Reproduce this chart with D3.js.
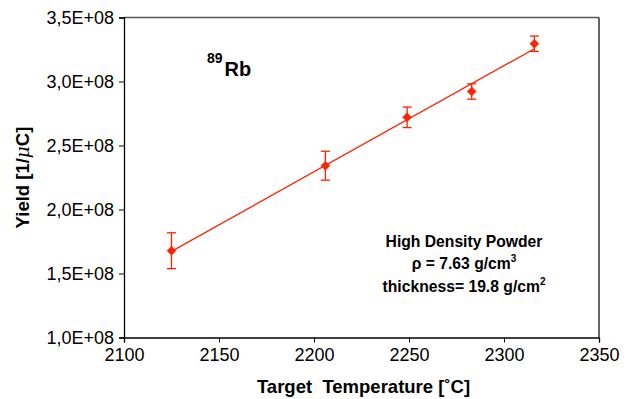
<!DOCTYPE html>
<html>
<head>
<meta charset="utf-8">
<script src="https://cdn.jsdelivr.net/npm/d3@7"></script>
<style>
  html, body { margin: 0; padding: 0; background: #fff; }
  svg { display: block; font-family: "Liberation Sans", Arial, Helvetica, sans-serif; }
</style>
</head>
<body>
<svg id="chart" width="636" height="399"></svg>
<script>
// ---- Data ----
const temperatures = [2125, 2206, 2249, 2283, 2316];
const yields = [1.678e8, 2.342e8, 2.72e8, 2.922e8, 3.295e8];
const yieldErrors = [0.14e8, 0.113e8, 0.08e8, 0.06e8, 0.06e8];
const xTicks = [2100, 2150, 2200, 2250, 2300, 2350];
const yTicks = [1.0e8, 1.5e8, 2.0e8, 2.5e8, 3.0e8, 3.5e8];
const yTickLabels = ["1,0E+08", "1,5E+08", "2,0E+08", "2,5E+08", "3,0E+08", "3,5E+08"];

const svg = d3.select("#chart");
const margin = { left: 124, right: 37, top: 17.5, bottom: 61.5 };
const W = 636, H = 399;
const x = d3.scaleLinear().domain([2100, 2350]).range([margin.left, W - margin.right]);
const y = d3.scaleLinear().domain([1.0e8, 3.5e8]).range([H - margin.bottom, margin.top]);

const red = "#ff2200";

// frame: top and right borders
svg.append("line").attr("x1", x(2100)).attr("x2", x(2350)).attr("y1", y(3.5e8)).attr("y2", y(3.5e8))
  .attr("stroke", "#555").attr("stroke-width", 1.3);
svg.append("line").attr("x1", x(2350)).attr("x2", x(2350)).attr("y1", y(3.5e8)).attr("y2", y(1.0e8))
  .attr("stroke", "#111").attr("stroke-width", 1.3);

// axes
const xAxis = d3.axisBottom(x).tickValues(xTicks).tickSize(5).tickPadding(6).tickFormat(d3.format("d"));
const yAxis = d3.axisLeft(y).tickValues(yTicks).tickSize(5).tickPadding(5)
  .tickFormat((d, i) => yTickLabels[i]);

const gx = svg.append("g").attr("transform", `translate(0,${y(1.0e8)})`).call(xAxis);
const gy = svg.append("g").attr("transform", `translate(${x(2100)},0)`).call(yAxis);
[gx, gy].forEach(g => {
  g.select(".domain").attr("stroke", "#000").attr("stroke-width", 1.3);
  g.selectAll(".tick line").attr("stroke", "#000").attr("stroke-width", 1);
  g.selectAll(".tick text").attr("fill", "#000").style("font-size", "18px")
    .style("font-family", "'Liberation Sans', Arial, sans-serif");
});

// linear fit from data
const mx = d3.mean(temperatures), my = d3.mean(yields);
const sxy = d3.sum(temperatures, (t, i) => (t - mx) * (yields[i] - my));
const sxx = d3.sum(temperatures, t => (t - mx) * (t - mx));
const slope = sxy / sxx, intercept = my - slope * mx;
const fitX = d3.extent(temperatures);
svg.append("path")
  .attr("d", d3.line().x(d => x(d)).y(d => y(intercept + slope * d))(fitX))
  .attr("stroke", red).attr("stroke-width", 1.3).attr("fill", "none");

// error bars
const pts = temperatures.map((t, i) => ({ t, v: yields[i], e: yieldErrors[i] }));
const eb = svg.append("g").attr("stroke", red).attr("stroke-width", 1.3).attr("fill", "none");
pts.forEach(p => {
  eb.append("line").attr("x1", x(p.t)).attr("x2", x(p.t)).attr("y1", y(p.v - p.e)).attr("y2", y(p.v + p.e));
  [p.v - p.e, p.v + p.e].forEach(v => {
    eb.append("line").attr("x1", x(p.t) - 4.5).attr("x2", x(p.t) + 4.5).attr("y1", y(v)).attr("y2", y(v));
  });
});

// diamond markers
svg.append("g").selectAll("path").data(pts).join("path")
  .attr("transform", d => `translate(${x(d.t)},${y(d.v)})`)
  .attr("d", "M0,-4.5L4.5,0L0,4.5L-4.5,0Z")
  .attr("fill", red).attr("stroke", red).attr("stroke-width", 0.5);

// axis titles
svg.append("text").attr("x", (x(2100) + x(2350)) / 2 + 2).attr("y", 393)
  .attr("text-anchor", "middle").style("font-size", "18.5px").style("font-weight", "bold")
  .text("Target\u00a0 Temperature [˚C]");

const yl = svg.append("text").attr("transform", `translate(29,${(y(1e8) + y(3.5e8)) / 2}) rotate(-90)`)
  .attr("text-anchor", "middle").style("font-size", "18.5px").style("font-weight", "bold");
yl.append("tspan").text("Yield [1/");
yl.append("tspan").style("font-style", "italic").style("font-weight", "normal")
  .style("font-family", "'DejaVu Serif', serif").text("μ");
yl.append("tspan").text("C]");

// isotope label
const iso = svg.append("text").attr("x", 207).attr("y", 76).style("font-weight", "bold");
iso.append("tspan").style("font-size", "14px").attr("dy", -13).text("89");
iso.append("tspan").style("font-size", "20px").attr("dy", 13).attr("dx", 2).text("Rb");

// annotation
const ann = svg.append("g").style("font-size", "15.7px").style("font-weight", "bold").attr("text-anchor", "middle");
ann.append("text").attr("x", 464).attr("y", 246.5).text("High Density Powder");
const l2 = ann.append("text").attr("x", 464).attr("y", 269);
l2.append("tspan").text("ρ = 7.63 g/cm");
l2.append("tspan").attr("dy", -7).style("font-size", "10px").text("3");
const l3 = ann.append("text").attr("x", 464).attr("y", 291.5);
l3.append("tspan").text("thickness= 19.8 g/cm");
l3.append("tspan").attr("dy", -7).style("font-size", "10px").text("2");
</script>
</body>
</html>
